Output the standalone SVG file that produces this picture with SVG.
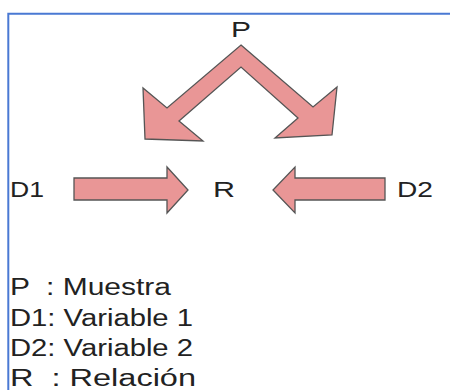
<svg xmlns="http://www.w3.org/2000/svg" width="450" height="390" viewBox="0 0 450 390">
<style>
.arrow{fill:#e99696;stroke:#555;stroke-width:1.3;stroke-linejoin:miter}
.lbl{font-family:"Liberation Sans",Arial,sans-serif;font-size:22px;fill:#222}
.leg{font-family:"Liberation Sans",Arial,sans-serif;font-size:23px;fill:#222;white-space:pre}
</style>
<rect width="450" height="390" fill="#fff"/>
<path d="M8.3,390 V13.7 H450" fill="none" stroke="#4a79d3" stroke-width="2"/>
<g id="connectors">
<polygon class="arrow" points="241,45 313,107 337,87 332,135 275,138 298,118 241,67 179,121 203,141 145,139 143,88 167,108"/>
<polygon class="arrow" points="74,178 167,178 167,167 188,190 167,213 167,200 74,200"/>
<polygon class="arrow" points="385,178 295,178 295,167 273,190 295,213 295,200 385,200"/>
</g>
<g id="node-P"><text class="lbl" x="231" y="37" textLength="20" lengthAdjust="spacingAndGlyphs">P</text></g>
<g id="node-D1"><text class="lbl" x="10" y="197" textLength="34" lengthAdjust="spacingAndGlyphs">D1</text></g>
<g id="node-R"><text class="lbl" x="213" y="197" textLength="22" lengthAdjust="spacingAndGlyphs">R</text></g>
<g id="node-D2"><text class="lbl" x="397" y="197" textLength="36" lengthAdjust="spacingAndGlyphs">D2</text></g>
<g id="legend">
<text class="leg" x="10" y="295" xml:space="preserve" textLength="161" lengthAdjust="spacingAndGlyphs">P  : Muestra</text>
<text class="leg" x="10" y="326" textLength="183" lengthAdjust="spacingAndGlyphs">D1: Variable 1</text>
<text class="leg" x="10" y="356" textLength="183" lengthAdjust="spacingAndGlyphs">D2: Variable 2</text>
<text class="leg" x="10" y="386" xml:space="preserve" textLength="186" lengthAdjust="spacingAndGlyphs">R  : Relación</text>
</g>
</svg>
